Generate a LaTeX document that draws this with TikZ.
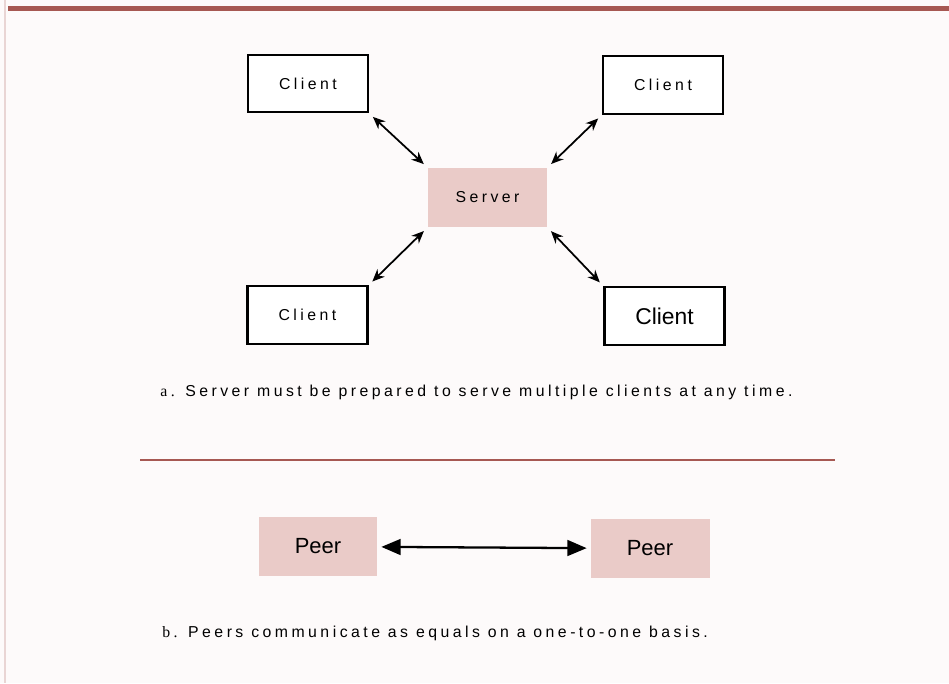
\documentclass[tikz,border=0pt]{standalone}
\usepackage{fontspec}
\setmainfont{Liberation Sans}
\newfontfamily\trackfont[LetterSpace=22]{Liberation Sans}
\newfontfamily\markfont[LetterSpace=22]{Liberation Serif}
\usetikzlibrary{arrows.meta}
\usetikzlibrary{math}
\definecolor{myrule}{RGB}{166,88,82}
\definecolor{mypink}{RGB}{234,203,200}
\definecolor{mypaper}{RGB}{253,250,250}

\begin{document}
\begin{tikzpicture}[x=0.02cm,y=-0.02cm,
  client/.style={draw,line width=1.2pt,fill=white,minimum width=2.4cm,minimum height=1.15cm,inner sep=0pt},
  host/.style={fill=mypink,minimum width=2.38cm,minimum height=1.18cm,inner sep=0pt},
  link/.style={{Stealth[length=7pt,width=6pt]}-{Stealth[length=7pt,width=6pt]},line width=1pt,shorten <=3pt,shorten >=3pt},
  small/.style={font=\trackfont\fontsize{9}{11}\selectfont},
  big/.style={font=\fontsize{13}{15}\selectfont},
  caption/.style={anchor=west,inner sep=0pt,font=\trackfont\fontsize{9}{11}\selectfont}]
\tikzmath{
\W=949;
\H=683;
}

\fill[mypaper] (0,0) rectangle (\W,\H);
\useasboundingbox (0,0) rectangle (\W,\H);
\draw[myrule!25,line width=0.6pt] (5,0) -- (5,\H);
\draw[myrule,line width=2.6pt] (8,8.5) -- (\W,8.5);

% client / server
\node[host,small] (server) at (487.5,197.5) {Server};
\node[client,small] (c1) at (308,83.5) {Client};
\node[client,small] (c2) at (663,85) {Client};
\node[client,small] (c3) at (307.5,315) {Client};
\node[client,big] (c4) at (664.5,316) {Client};

\draw[link] (c1.south east) -- (server.north west);
\draw[link] (c2.south west) -- (server.north east);
\draw[link] (c3.north east) -- (server.south west);
\draw[link] (c4.north west) -- (server.south east);

\node[caption] (capa) at (160,392) {{\markfont a.} Server must be prepared to serve multiple clients at any time.};

\draw[myrule,line width=1.6pt] (140,460) -- (835,460);

% peer to peer
\node[host,big,font=\fontsize{12.5}{15}\selectfont] (p1) at (318,546.5) {Peer};
\node[host,big,font=\fontsize{12.5}{15}\selectfont] (p2) at (650,548.5) {Peer};
\draw[{Triangle[length=11pt,width=9pt]}-{Triangle[length=11pt,width=9pt]},line width=1.3pt,shorten <=2pt,shorten >=2pt] (p1) -- (p2);

\node[caption] (capb) at (162,633) {{\markfont b.} Peers communicate as equals on a one-to-one basis.};

\end{tikzpicture}
\end{document}
